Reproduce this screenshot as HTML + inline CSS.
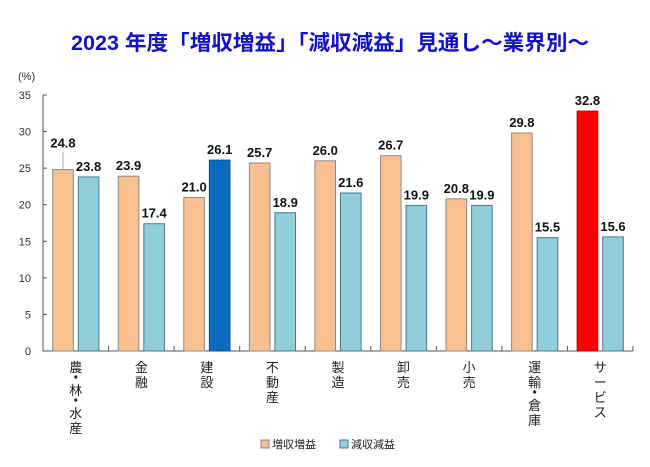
<!DOCTYPE html>
<html><head><meta charset="utf-8"><style>
body{margin:0;background:#fff;font-family:"Liberation Sans","Noto Sans CJK JP",sans-serif}
</style></head><body>
<svg width="650" height="462" xmlns="http://www.w3.org/2000/svg" font-family="Liberation Sans, Noto Sans CJK JP, sans-serif">
<text x="330" y="50" text-anchor="middle" font-size="21" font-weight="bold" fill="#1111cc" textLength="518" lengthAdjust="spacingAndGlyphs">2023 年度「増収増益」「減収減益」見通し～業界別～</text>
<text x="18" y="80" font-size="11" fill="#333">(%)</text>
<g id="g"></g>
</svg>
<script>
const categories=[["農","・","林","・","水","産"],["金","融"],["建","設"],["不","動","産"],["製","造"],["卸","売"],["小","売"],["運","輸","・","倉","庫"],["サ","ー","ビ","ス"]];
const increase=[24.8,23.9,21.0,25.7,26.0,26.7,20.8,29.8,32.8];
const decrease=[23.8,17.4,26.1,18.9,21.6,19.9,19.9,15.5,15.6];
const yTicks=[0,5,10,15,20,25,30,35];
const NS="http://www.w3.org/2000/svg",g=document.getElementById('g');
const x0=43,x1=633,yTop=95,yBot=351,cw=(x1-x0)/categories.length,bw=20.6;
const y=v=>yBot-(v/35)*(yBot-yTop);
function mk(t,a,txt){const e=document.createElementNS(NS,t);for(const k in a)e.setAttribute(k,a[k]);if(txt!=null)e.textContent=txt;g.appendChild(e);return e;}
yTicks.forEach(v=>{const e=mk('text',{x:31,y:y(v)+4,'text-anchor':'end','font-size':11,fill:'#333'},v);


const t=mk('line',{x1:x0,x2:x0+4,y1:y(v),y2:y(v),stroke:'#555'});

});
const ax=mk('line',{x1:x0,x2:x0,y1:yTop,y2:yBot,stroke:'#555'});


const bx=mk('line',{x1:x0,x2:x1,y1:yBot,y2:yBot,stroke:'#555'});


categories.forEach((c,i)=>{
 const cx=x0+i*cw;
 const tk=mk('line',{x1:cx+cw,x2:cx+cw,y1:yBot,y2:yBot-5,stroke:'#555'});
 
 
 const ox=cx+9.7,bxp=cx+cw-9.7-bw;
 const fo=i==8?'#ff0000':'#f9c08f',so=i==8?'#c00000':'#8a8a8a';
 const fb=i==2?'#0a6bc0':'#92cddc',sb=i==2?'#0a4f90':'#4a7a8a';
 const r1=mk('rect',{x:ox,y:y(increase[i]),width:bw,height:yBot-y(increase[i]),fill:fo,stroke:so,'stroke-width':1});
 
 
 const r2=mk('rect',{x:bxp,y:y(decrease[i]),width:bw,height:yBot-y(decrease[i]),fill:fb,stroke:sb,'stroke-width':1});
 
 
 let ly=y(increase[i])-6;
 if(i==0){ly=y(increase[i])-22;const l=mk('line',{x1:ox+bw/2,x2:ox+bw/2,y1:y(increase[i]),y2:ly+4,stroke:'#aaa'});}
 const t1=mk('text',{x:ox+bw/2,y:ly,'text-anchor':'middle','font-size':13,'font-weight':'bold',fill:'#111'},increase[i].toFixed(1));
 
 
 const t2=mk('text',{x:bxp+bw/2,y:y(decrease[i])-6,'text-anchor':'middle','font-size':13,'font-weight':'bold',fill:'#111'},decrease[i].toFixed(1));
 
 
 let yy=372;
 c.forEach((ch,j)=>{
 if(ch=='・'){const d=mk('circle',{cx:cx+cw/2,cy:yy-10,r:1.6,fill:'#222'});yy+=8;return;}
 const t=mk('text',{x:cx+cw/2,y:yy,'text-anchor':'middle','font-size':13,fill:'#222'},ch);
 
 
 yy+=15;});
});
[[261,'#f9c08f','#8a8a8a','増収増益'],[340,'#92cddc','#4a7a8a','減収減益']].forEach(l=>{
 const r=mk('rect',{x:l[0],y:440,width:8,height:8,fill:l[1],stroke:l[2]});
 
 
 const t=mk('text',{x:l[0]+11,y:448,'font-size':11,fill:'#222'},l[3]);
 
 
});
</script>
</body></html>
